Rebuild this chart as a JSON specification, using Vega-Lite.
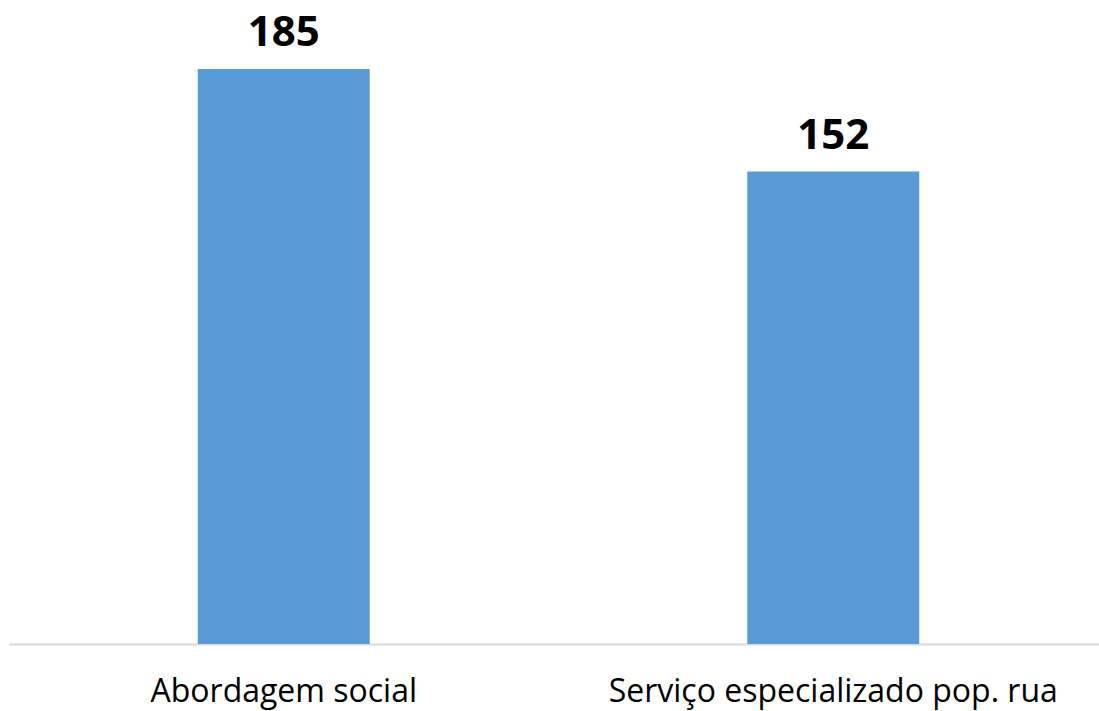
{
  "$schema": "https://vega.github.io/schema/vega-lite/v6.json",
  "width": 1099,
  "height": 644,
  "padding": {"left": 9, "top": 0, "right": 0, "bottom": 67},
  "autosize": {"type": "none"},
  "background": "white",
  "config": {"view": {"stroke": null}},
  "data": {"values": [
    {"categoria": "Abordagem social", "valor": 185},
    {"categoria": "Serviço especializado pop. rua", "valor": 152}
  ]},
  "encoding": {
    "x": {"field": "categoria", "type": "nominal", "sort": null,
      "scale": {"paddingInner": 0.687, "paddingOuter": 0.3435},
      "axis": {"title": null, "labelAngle": 0, "ticks": false, "domainColor": "#d9d9d9", "domainWidth": 2,
        "labelFont": "Open Sans", "labelFontSize": 32, "labelColor": "#000000", "labelPadding": 32,
        "labelOverlap": false, "labelLimit": 0, "labelBound": false}},
    "y": {"field": "valor", "type": "quantitative",
      "scale": {"domain": [0, 207.2]},
      "axis": null}
  },
  "layer": [
    {"mark": {"type": "bar", "color": "#5b9bd5"}},
    {"mark": {"type": "text", "dy": -23, "baseline": "alphabetic", "font": "Open Sans", "fontWeight": "bold", "fontSize": 42, "color": "#000000"},
     "encoding": {"text": {"field": "valor", "type": "quantitative"}}}
  ]
}
